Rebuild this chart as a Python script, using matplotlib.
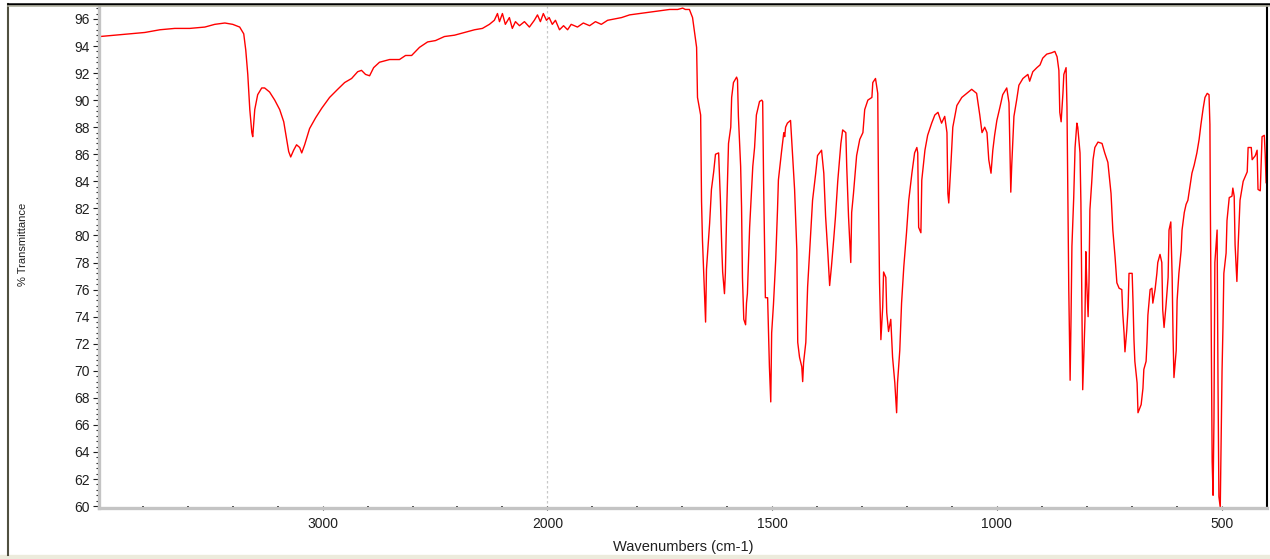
import numpy as np
import matplotlib
matplotlib.use("Agg")
import matplotlib.pyplot as plt
from matplotlib.ticker import FixedLocator
from matplotlib.lines import Line2D
from matplotlib.patches import Rectangle

plt.rcParams['font.family'] = ['Liberation Sans', 'DejaVu Sans']

# spectrum: wavenumber (cm-1) and %T
wavenumbers = [
    3991, 3924, 3858, 3791, 3724, 3658, 3591, 3524, 3480, 3435, 3400, 3369, 3351, 3342,
    3333, 3324, 3315, 3311, 3302, 3289, 3271, 3258, 3236, 3213, 3191, 3173, 3160, 3151,
    3142, 3129, 3116, 3102, 3093, 3080, 3058, 3031, 3004, 2969, 2933, 2902, 2871, 2844,
    2827, 2809, 2791, 2773, 2747, 2702, 2658, 2631, 2604, 2569, 2533, 2498, 2458, 2413,
    2369, 2324, 2289, 2258, 2236, 2222, 2213, 2200, 2187, 2169, 2156, 2142, 2124, 2102,
    2080, 2058, 2044, 2031, 2018, 2004,
    1996, 1989, 1982, 1973, 1964, 1955, 1947, 1933, 1920, 1906, 1893, 1880, 1866, 1851,
    1835, 1817, 1795, 1773, 1751, 1728, 1710, 1699, 1693, 1684, 1677, 1668, 1666, 1659,
    1657, 1655, 1650, 1648, 1646, 1639, 1635, 1630, 1626, 1619, 1615, 1612, 1610, 1606,
    1604, 1601, 1597, 1592, 1590, 1586, 1579, 1577, 1575, 1570, 1568, 1566, 1563, 1559,
    1557, 1555, 1550, 1543, 1539, 1535, 1528, 1523, 1521, 1519, 1515, 1510, 1506, 1503,
    1501, 1497, 1492, 1488, 1486, 1479, 1474, 1472, 1470, 1466, 1459, 1454, 1450, 1445,
    1443, 1439, 1434, 1432, 1430, 1425, 1421, 1414, 1410, 1403, 1399, 1390, 1385, 1381,
    1376, 1372, 1368, 1363, 1359, 1354, 1347, 1343, 1336, 1334, 1330, 1325, 1323, 1319,
    1312, 1305, 1298, 1294, 1287, 1278, 1276, 1270, 1265, 1263, 1261, 1258, 1254, 1252,
    1247, 1245, 1241, 1236, 1232, 1227, 1223, 1221, 1216, 1212, 1207, 1201, 1196, 1189,
    1183, 1178, 1176, 1174, 1169, 1167, 1160, 1154, 1145, 1138, 1131, 1123, 1116, 1111,
    1109, 1107, 1102, 1098, 1089, 1078, 1067, 1056, 1045, 1038, 1033, 1027, 1022, 1018,
    1013, 1009, 1005, 1000, 993, 987, 978, 973, 971, 969, 967, 962, 956, 951,
    942, 931, 927, 920, 911, 904, 898, 889, 878, 871, 866, 862, 860, 857,
    853, 851, 846, 844, 842, 840, 837, 835, 833, 829, 826, 822, 820, 815,
    813, 811, 809, 804, 802, 800, 797, 795, 793, 789, 786, 782, 775, 766,
    760, 753, 746, 742, 737, 733, 728, 722, 720, 717, 715, 711, 708, 706,
    699, 697, 695, 693, 688, 686, 679, 675, 673, 668, 666, 664, 659, 655,
    653, 648, 644, 642, 637, 633, 631, 628, 624, 619, 617, 613, 610, 608,
    606, 601, 599, 595, 590, 588, 583, 579, 575, 570, 566, 561, 555, 550,
    546, 541, 537, 532, 528, 526, 525, 523, 521, 519, 517, 515, 510, 508,
    506, 503, 501, 499, 497, 495, 490, 488, 483, 477, 475, 472, 470, 466,
    463, 459, 452, 443, 441, 434, 432, 425, 421, 419, 414, 410, 405, 403, 401,
]
transmittance = [
    94.7, 94.8, 94.9, 95.0, 95.2, 95.3, 95.3, 95.4, 95.6, 95.7, 95.6, 95.4, 94.9, 93.7,
    91.9, 89.3, 87.6, 87.3, 89.3, 90.4, 90.9, 90.9, 90.6, 90.0, 89.3, 88.4, 87.1, 86.2,
    85.8, 86.3, 86.7, 86.5, 86.1, 86.7, 87.9, 88.7, 89.4, 90.2, 90.8, 91.3, 91.6, 92.1,
    92.2, 91.9, 91.8, 92.4, 92.8, 93.0, 93.0, 93.3, 93.3, 93.9, 94.3, 94.4, 94.7, 94.8,
    95.0, 95.2, 95.3, 95.6, 95.9, 96.4, 95.8, 96.4, 95.6, 96.1, 95.3, 95.8, 95.5, 95.8,
    95.4, 95.9, 96.3, 95.8, 96.4, 95.9,
    96.1, 95.6, 95.9, 95.2, 95.5, 95.2, 95.6, 95.4, 95.7, 95.5, 95.8, 95.6, 95.9, 96.0,
    96.1, 96.3, 96.4, 96.5, 96.6, 96.7, 96.7, 96.8, 96.7, 96.7, 96.1, 93.9, 90.2, 88.9,
    82.5, 79.7, 75.4, 73.6, 77.5, 80.9, 83.4, 84.7, 86.0, 86.1, 82.6, 79.1, 77.3, 75.7,
    77.2, 81.9, 86.8, 88.0, 90.2, 91.3, 91.7, 91.5, 88.8, 85.1, 82.1, 76.9, 73.8, 73.4,
    75.0, 75.7, 80.6, 85.1, 86.5, 88.9, 89.9, 90.0, 89.9, 84.1, 75.4, 75.4, 70.3, 67.7,
    72.8, 74.9, 78.2, 81.9, 84.1, 86.2, 87.6, 87.3, 88.0, 88.3, 88.5, 85.6, 83.4, 78.9,
    72.1, 71.0, 70.3, 69.2, 70.6, 72.1, 76.2, 80.2, 82.6, 84.6, 85.9, 86.3, 84.6, 81.4,
    78.7, 76.3, 77.7, 79.7, 81.4, 84.0, 86.8, 87.8, 87.6, 85.1, 81.4, 78.0, 81.7, 83.1,
    85.9, 87.1, 87.6, 89.3, 90.0, 90.2, 91.3, 91.6, 90.5, 82.1, 76.5, 72.3, 74.7, 77.3,
    76.9, 74.3, 72.9, 73.8, 71.0, 69.1, 66.9, 69.1, 71.5, 75.0, 77.7, 80.2, 82.6, 84.6,
    86.1, 86.5, 86.1, 80.6, 80.2, 84.1, 86.3, 87.4, 88.3, 88.9, 89.1, 88.3, 88.8, 87.6,
    83.1, 82.4, 85.4, 88.0, 89.6, 90.2, 90.5, 90.8, 90.5, 88.9, 87.6, 88.0, 87.6, 85.6,
    84.6, 86.3, 87.4, 88.5, 89.5, 90.4, 90.9, 89.8, 86.3, 83.2, 85.1, 88.8, 90.0, 91.1,
    91.6, 91.9, 91.4, 92.1, 92.4, 92.6, 93.1, 93.4, 93.5, 93.6, 93.2, 92.2, 89.1, 88.4,
    90.5, 91.9, 92.4, 89.5, 82.6, 76.0, 69.3, 73.8, 79.2, 82.8, 86.5, 88.3, 88.0, 86.1,
    82.4, 75.5, 68.6, 73.8, 78.8, 76.5, 74.0, 76.6, 81.9, 83.9, 85.6, 86.5, 86.9, 86.8,
    86.1, 85.4, 83.1, 80.4, 78.4, 76.5, 76.1, 76.0, 74.3, 72.8, 71.4, 73.0, 74.7, 77.2,
    77.2, 75.0, 72.3, 70.7, 69.1, 66.9, 67.5, 68.7, 70.1, 70.7, 72.1, 74.1, 76.0, 76.1,
    75.0, 76.0, 77.2, 78.0, 78.6, 78.0, 74.5, 73.2, 74.7, 76.9, 80.4, 81.0, 76.9, 72.5,
    69.5, 71.5, 75.2, 77.2, 78.9, 80.4, 81.7, 82.3, 82.6, 83.7, 84.6, 85.2, 86.1, 87.1,
    88.2, 89.4, 90.2, 90.5, 90.4, 88.2, 82.1, 72.5, 63.3, 60.8, 66.4, 78.0, 80.4, 69.1,
    60.7, 59.9, 65.0, 70.0, 73.2, 77.2, 78.7, 81.1, 82.8, 82.9, 83.5, 82.9, 79.3, 76.6,
    79.4, 82.6, 84.0, 84.7, 86.5, 86.5, 85.6, 85.9, 86.3, 83.4, 83.3, 87.3, 87.4, 86.0, 83.9,
]

x_major = [3000, 2000, 1500, 1000, 500]
y_major = list(range(60, 97, 2))


# the instrument squeezes everything above 2000 cm-1 to half scale
def fwd(x):
    x = np.asarray(x, dtype=float)
    return np.where(x <= 2000, x, 2000 + (x - 2000) * 0.5)


def inv(y):
    y = np.asarray(y, dtype=float)
    return np.where(y <= 2000, y, 2000 + (y - 2000) * 2.0)


fig = plt.figure(figsize=(12.7, 5.59), dpi=100)
ax = fig.add_axes([99 / 1270, 51 / 559, 1168 / 1270, 503 / 559])

ax.set_xscale('function', functions=(fwd, inv))
ax.plot(wavenumbers, transmittance, color='#ff0000', lw=1.0)
ax.axvline(2000, color='#c8c8c8', lw=0.9, ls=(0, (2, 2)), zorder=0)

ax.set_xlim(3995, 399)
ax.set_ylim(59.86, 97.03)

ax.xaxis.set_major_locator(FixedLocator(x_major))
ax.xaxis.set_minor_locator(FixedLocator(list(range(600, 2000, 100)) + list(range(2200, 4000, 200))))
ax.set_xticklabels([str(v) for v in x_major])
ax.yaxis.set_major_locator(FixedLocator(y_major))
ax.yaxis.set_minor_locator(FixedLocator([round(60 + 0.4 * i, 1) for i in range(93)]))
ax.set_yticklabels([str(v) for v in y_major])

ax.tick_params(axis='y', which='major', direction='out', length=4.5, width=0.8, pad=2,
               labelsize=10, color='#202020', labelcolor='#202020')
ax.tick_params(axis='y', which='minor', direction='out', length=2.2, width=0.8, color='#202020')
ax.tick_params(axis='x', which='major', direction='inout', length=3.5, width=0.8, pad=5,
               labelsize=10, color='#202020', labelcolor='#202020')
ax.tick_params(axis='x', which='minor', direction='in', length=1.2, width=1.2, color='#202020')

for side in ('left', 'bottom'):
    ax.spines[side].set_color('#c4c4c4')
    ax.spines[side].set_linewidth(2.4)
ax.spines['top'].set_visible(False)
ax.spines['right'].set_color('black')
ax.spines['right'].set_linewidth(1.5)

ax.set_xlabel('Wavenumbers (cm-1)', fontsize=10.5, color='#202020', labelpad=6)
ax.set_ylabel('% Transmittance', fontsize=8, color='#202020')
ax.yaxis.set_label_coords(-0.061, 0.525)

# window frame around the plot
fig.add_artist(Line2D([8 / 1270, 8 / 1270], [4 / 559, 555 / 559], color='#505040', lw=1.5))
fig.add_artist(Line2D([8 / 1270, 1269 / 1270], [555 / 559, 555 / 559], color='black', lw=1.8))
fig.add_artist(Line2D([8 / 1270, 1269 / 1270], [553 / 559, 553 / 559], color='#b0b0a0', lw=1.2))
fig.add_artist(Rectangle((0, 0), 1, 4 / 559, color='#ecebdc', transform=fig.transFigure))

fig.savefig('out.png', dpi=100)
